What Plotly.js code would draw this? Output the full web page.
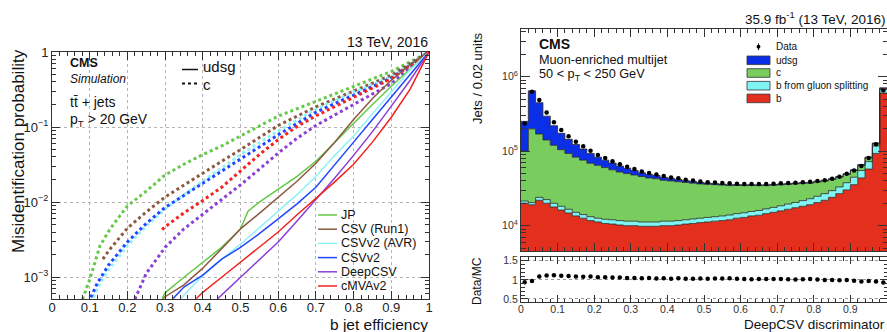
<!DOCTYPE html>
<html><head><meta charset="utf-8">
<script src="https://cdn.plot.ly/plotly-3.0.1.min.js"></script>
<style>html,body{margin:0;padding:0;background:#fff}#chart{width:887px;height:332px}</style>
</head><body><div id="chart"></div>
<script>
// ================= LEFT PANEL DATA (b jet efficiency vs misidentification) =================
const taggers   = ['JP', 'CSV (Run1)', 'CSVv2 (AVR)', 'CSVv2', 'DeepCSV', 'cMVAv2'];
const tagColors = ['#63c948', '#8c5a3f', '#8ef3f6', '#2245ff', '#8a3fd6', '#f2221f'];

// udsg (solid)
const jpUdsgEff   = [0.292,0.30,0.35,0.40,0.45,0.50,0.52,0.55,0.60,0.65,0.70,0.75,0.80,0.85,0.90,0.95,1.0];
const jpUdsgMis   = [5.2e-4,6.2e-4,1.0e-3,1.58e-3,2.5e-3,4.4e-3,7.6e-3,1.0e-2,1.48e-2,2.2e-2,3.5e-2,6.3e-2,0.112,0.20,0.35,0.60,1];
const csvUdsgEff  = [0.295,0.30,0.35,0.40,0.45,0.50,0.55,0.60,0.65,0.70,0.75,0.80,0.85,0.90,0.95,1.0];
const csvUdsgMis  = [5.2e-4,5.5e-4,7.9e-4,1.32e-3,2.4e-3,4.4e-3,7.1e-3,1.17e-2,1.9e-2,3.3e-2,6.3e-2,0.126,0.24,0.42,0.68,1];
const avrUdsgEff  = [0.343,0.35,0.40,0.45,0.50,0.55,0.60,0.65,0.70,0.75,0.80,0.85,0.90,0.95,1.0];
const avrUdsgMis  = [5.2e-4,5.8e-4,1.05e-3,1.74e-3,2.75e-3,4.6e-3,7.6e-3,1.26e-2,2.2e-2,4.2e-2,7.6e-2,0.15,0.30,0.58,1];
const v2UdsgEff   = [0.321,0.35,0.40,0.45,0.50,0.55,0.60,0.65,0.70,0.75,0.80,0.85,0.90,0.95,1.0];
const v2UdsgMis   = [5.2e-4,7.4e-4,1.07e-3,1.74e-3,2.5e-3,3.8e-3,6.0e-3,9.5e-3,1.58e-2,3.2e-2,6.3e-2,0.126,0.25,0.50,1];
const deepUdsgEff = [0.44,0.50,0.55,0.60,0.65,0.70,0.75,0.80,0.85,0.90,0.95,1.0];
const deepUdsgMis = [5.2e-4,1.0e-3,1.7e-3,2.95e-3,5.6e-3,1.07e-2,2.1e-2,4.2e-2,8.7e-2,0.19,0.42,1];
const cmvaUdsgEff = [0.383,0.40,0.45,0.50,0.55,0.60,0.65,0.70,0.75,0.80,0.85,0.90,0.95,1.0];
const cmvaUdsgMis = [5.2e-4,6.3e-4,1.0e-3,1.58e-3,2.5e-3,4.0e-3,6.8e-3,1.12e-2,1.86e-2,3.2e-2,6.3e-2,0.135,0.32,1];

// c (dotted)
const jpCEff   = [0.081,0.10,0.127,0.154,0.20,0.25,0.30,0.35,0.40,0.45,0.50,0.60,0.70,0.80,0.90,1.0];
const jpCMis   = [5.1e-4,9.3e-4,2.6e-3,4.4e-3,8.9e-3,1.4e-2,2.3e-2,3.2e-2,4.3e-2,5.6e-2,7.6e-2,0.14,0.22,0.35,0.55,1];
const csvCEff  = [0.135,0.15,0.20,0.25,0.30,0.35,0.40,0.45,0.50,0.60,0.70,0.80,0.90,1.0];
const csvCMis  = [1.74e-3,2.24e-3,4.5e-3,7.4e-3,1.17e-2,1.7e-2,2.45e-2,3.5e-2,5.0e-2,0.105,0.186,0.30,0.49,1];
const avrCEff  = [0.11,0.12,0.15,0.20,0.25,0.30,0.35,0.40,0.45,0.50,0.60,0.70,0.80,0.90,1.0];
const avrCMis  = [5.4e-4,7.1e-4,1.26e-3,2.63e-3,4.8e-3,8.1e-3,1.26e-2,1.9e-2,2.8e-2,4.3e-2,8.9e-2,0.174,0.29,0.47,1];
const v2CEff   = [0.103,0.12,0.15,0.20,0.25,0.30,0.35,0.40,0.45,0.50,0.60,0.70,0.80,0.90,1.0];
const v2CMis   = [5.4e-4,8.3e-4,1.45e-3,2.95e-3,5.2e-3,8.5e-3,1.23e-2,1.78e-2,2.57e-2,3.8e-2,7.9e-2,0.158,0.27,0.45,1];
const deepCEff = [0.22,0.25,0.30,0.35,0.40,0.45,0.50,0.55,0.60,0.65,0.70,0.80,0.90,1.0];
const deepCMis = [5.1e-4,1.12e-3,2.5e-3,4.4e-3,6.9e-3,1.07e-2,1.7e-2,2.75e-2,4.5e-2,7.1e-2,0.105,0.20,0.38,1];
const cmvaCEff = [0.292,0.30,0.35,0.40,0.45,0.50,0.55,0.60,0.65,0.70,0.80,0.90,1.0];
const cmvaCMis = [4.3e-3,4.7e-3,7.2e-3,1.05e-2,1.58e-2,2.6e-2,4.3e-2,6.8e-2,0.102,0.141,0.25,0.44,1];

const udsgCurves = [[jpUdsgEff,jpUdsgMis],[csvUdsgEff,csvUdsgMis],[avrUdsgEff,avrUdsgMis],[v2UdsgEff,v2UdsgMis],[deepUdsgEff,deepUdsgMis],[cmvaUdsgEff,cmvaUdsgMis]];
const cCurves    = [[jpCEff,jpCMis],[csvCEff,csvCMis],[avrCEff,avrCMis],[v2CEff,v2CMis],[deepCEff,deepCMis],[cmvaCEff,cmvaCMis]];
const effTicks = [0,0.1,0.2,0.3,0.4,0.5,0.6,0.7,0.8,0.9,1];
const effTickText = ['0','0.1','0.2','0.3','0.4','0.5','0.6','0.7','0.8','0.9','1'];
const misTicks = [0.001,0.01,0.1,1];
const misTickText = ['10<sup>\u22123</sup>','10<sup>\u22122</sup>','10<sup>\u22121</sup>','1'];

// ================= RIGHT PANEL DATA (DeepCSV discriminator, 0.02 bins) =================
const binCenters = [0.01,0.03,0.05,0.07,0.09,0.11,0.13,0.15,0.17,0.19,0.21,0.23,0.25,0.27,0.29,0.31,0.33,0.35,0.37,0.39,
                    0.41,0.43,0.45,0.47,0.49,0.51,0.53,0.55,0.57,0.59,0.61,0.63,0.65,0.67,0.69,0.71,0.73,0.75,0.77,0.79,
                    0.81,0.83,0.85,0.87,0.89,0.91,0.93,0.95,0.97,0.99];
const binWidth = 0.02;
const nB    = [20000,19100,21900,20000,17800,16200,14800,13500,12600,11700,11200,10700,10500,10200,10000,10000,9800,9800,9800,10000,
               10000,10200,10500,10700,11000,11200,11500,11700,12000,12600,12900,13500,13800,14500,15100,15800,16600,17400,18200,19100,
               20400,21900,24000,26900,30200,35500,43700,57500,93300,603000];
const nGsp  = [1400,1300,2100,2400,2200,2000,1800,1600,1500,1500,1400,1500,1500,1500,1500,1500,1400,1400,1400,1500,
               1500,1500,1500,1600,1600,1700,1700,1800,1900,1900,2000,2000,2200,2300,2500,2700,2900,3100,3500,3900,
               4400,5000,5500,6200,7500,9200,11300,14900,24200,73000];
const nC    = [78600,179000,146000,119000,100000,86500,76700,68100,61800,55700,52000,48000,44200,40800,38600,36400,34500,32500,31500,29200,
               28300,27200,26000,24900,23700,23000,22300,21600,20600,20200,19600,19200,18500,17700,17300,16900,16400,15900,15300,14200,
               13800,12900,12200,11600,11000,10300,9500,9000,8500,16000];
const nUdsg = [151000,446000,277000,154000,99000,69000,51200,39800,31300,24100,18600,15600,13000,10600,8800,7100,5600,5000,4400,3800,
               3200,2700,2200,1900,1700,1400,1200,1100,1000,900,800,800,800,800,800,800,800,900,800,900,
               900,900,1000,1000,1100,1200,1500,1900,2900,16000];
const nData = [236000,627000,487000,330000,245000,193000,159000,134000,116000,101000,89000,81200,73400,66900,61800,57800,53400,51000,48700,46500,
               44400,43400,41400,40300,39300,38300,38000,37400,37000,36600,36200,36200,36200,36200,36600,37000,37400,37600,38400,38900,
               39800,40700,42700,45200,49600,55100,63300,80700,123600,658000];
const procNames  = ['b', 'b from gluon splitting', 'c', 'udsg'];
const procValues = [nB, nGsp, nC, nUdsg];
const procColors = ['#e3301e', '#80f3f3', '#78cd5e', '#0b2fe6'];

// ================= helpers =================
const W = 887, H = 332;
const PX = v => v / W, PY = v => 1 - v / H;
const FONT = 'Liberation Sans, Arial, Helvetica, sans-serif';

const traces = [];
// left panel curves
cCurves.forEach((cv, i) => traces.push({
  type: 'scatter', mode: 'lines', x: cv[0], y: cv[1], xaxis: 'x', yaxis: 'y',
  line: {color: tagColors[i], width: 3, dash: 'dot'}, showlegend: false, hoverinfo: 'skip'
}));
udsgCurves.forEach((cv, i) => traces.push({
  type: 'scatter', mode: 'lines', x: cv[0], y: cv[1], xaxis: 'x', yaxis: 'y',
  line: {color: tagColors[i], width: 1.5}, showlegend: false, hoverinfo: 'skip'
}));

// right panel: stacked step histograms (edges built from bin centers)
const edges = binCenters.map(c => +(c - binWidth / 2).toFixed(4)).concat([+(binCenters[binCenters.length - 1] + binWidth / 2).toFixed(4)]);
procValues.forEach((vals, i) => traces.push({
  type: 'scatter', mode: 'lines', x: edges, y: vals.concat([vals[vals.length - 1]]),
  xaxis: 'x2', yaxis: 'y2', stackgroup: 'mc', line: {shape: 'hv', color: '#2a2a2a', width: 0.8},
  fillcolor: procColors[i], name: procNames[i], showlegend: false, hoverinfo: 'skip'
}));
traces.push({
  type: 'scatter', mode: 'markers', x: binCenters, y: nData, xaxis: 'x2', yaxis: 'y2',
  marker: {color: '#000', size: 4.5}, showlegend: false, hoverinfo: 'skip'
});
const mcTotal = binCenters.map((_, k) => nB[k] + nGsp[k] + nC[k] + nUdsg[k]);
traces.push({
  type: 'scatter', mode: 'markers', x: binCenters, y: nData.map((d, k) => d / mcTotal[k]), xaxis: 'x3', yaxis: 'y3',
  marker: {color: '#000', size: 4.5}, showlegend: false, hoverinfo: 'skip'
});

// ================= annotations & legend glyphs =================
const ann = [];
const shapes = [];
function txt(text, x, y, size, opts = {}) {
  ann.push(Object.assign({text, x: PX(x), y: PY(y), xref: 'paper', yref: 'paper', showarrow: false, borderpad: 0,
    xanchor: 'left', yanchor: 'middle', font: {family: FONT, size, color: '#111'}}, opts));
}
// left panel text
txt('13 TeV, 2016', 429, 42, 14, {xanchor: 'right'});
txt('Misidentification probability', 18, 151, 17, {xanchor: 'center', textangle: -90});
txt('b jet efficiency', 429, 324, 15.5, {xanchor: 'right'});
txt('<b>CMS</b>', 69, 63, 12.5);
txt('<i>Simulation</i>', 69, 79, 12);
txt('tt\u0304 + jets', 69, 101.5, 14);
txt('p<sub>T</sub> &gt; 20 GeV', 69, 119.5, 14);
// style key (udsg solid / c dotted)
shapes.push({type: 'line', xref: 'paper', yref: 'paper', x0: PX(182), x1: PX(198), y0: PY(69.5), y1: PY(69.5), line: {color: '#111', width: 1.5}});
shapes.push({type: 'line', xref: 'paper', yref: 'paper', x0: PX(182), x1: PX(198), y0: PY(83.5), y1: PY(83.5), line: {color: '#111', width: 2.2, dash: 'dot'}});
txt('udsg', 202, 66.5, 15);
txt('c', 202, 84, 15);
// tagger legend
taggers.forEach((name, i) => {
  const y = 215 + 14.2 * i;
  shapes.push({type: 'line', xref: 'paper', yref: 'paper', x0: PX(318), x1: PX(337), y0: PY(y), y1: PY(y), line: {color: tagColors[i], width: 1.5}});
  txt(name, 340, y, 12.5);
});

// right panel text
txt('35.9 fb<sup>-1</sup> (13 TeV, 2016)', 887, 18, 13.5, {xanchor: 'right'});
txt('Jets / 0.02 units', 477, 78, 13, {xanchor: 'center', textangle: -90});
txt('Data/MC', 477, 281, 12, {xanchor: 'center', textangle: -90});
txt('DeepCSV discriminator', 886, 324, 13.5, {xanchor: 'right'});
txt('<b>CMS</b>', 538, 44, 14);
txt('Muon-enriched multijet', 538, 60, 12.7);
txt('50 &lt; p<sub>T</sub> &lt; 250 GeV', 538, 75, 12.7);
// process legend
shapes.push({type: 'line', xref: 'paper', yref: 'paper', x0: PX(758.5), x1: PX(758.5), y0: PY(43.5), y1: PY(50), line: {color: '#000', width: 1}});
shapes.push({type: 'circle', xref: 'paper', yref: 'paper', x0: PX(756.6), x1: PX(760.4), y0: PY(48.6), y1: PY(44.8), fillcolor: '#000', line: {color: '#000', width: 0}});
txt('Data', 775, 47, 10);
const legOrder = [3, 2, 1, 0];
legOrder.forEach((pi, r) => {
  const y = 60.3 + 12.7 * r;
  shapes.push({type: 'rect', xref: 'paper', yref: 'paper', x0: PX(747), x1: PX(770), y0: PY(y + 4.3), y1: PY(y - 4.3),
    fillcolor: procColors[pi], line: {color: '#333', width: 0.8}});
  txt(procNames[pi], 775, y, 10);
});

// ================= axes =================
const frame = {showline: true, linecolor: '#333', linewidth: 1, mirror: 'ticks', ticks: 'inside', tickcolor: '#333', zeroline: false};
const layout = {
  width: W, height: H, margin: {l: 0, r: 0, t: 0, b: 0}, paper_bgcolor: '#fff', plot_bgcolor: '#fff',
  font: {family: FONT, color: '#222'}, showlegend: false,
  xaxis: Object.assign({}, frame, {domain: [PX(52), PX(429)], range: [0, 1], anchor: 'y', tickvals: effTicks, ticktext: effTickText,
    ticklen: 8, ticklabelstandoff: -4, tickfont: {size: 13, color: '#222'}, showgrid: true, gridcolor: '#b5b5b5', griddash: 'dot', gridwidth: 1,
    minor: {ticks: 'inside', ticklen: 4, dtick: 0.02, tickcolor: '#333', showgrid: false}}),
  yaxis: Object.assign({}, frame, {domain: [PY(299), PY(52)], type: 'log', range: [-3.29, 0], anchor: 'x', tickvals: misTicks, ticktext: misTickText,
    ticklen: 8, tickfont: {size: 13, color: '#222'}, showgrid: true, gridcolor: '#b5b5b5', griddash: 'dot', gridwidth: 1,
    minor: {ticks: 'inside', ticklen: 4, dtick: 'D1', tickcolor: '#333', showgrid: false}}),
  xaxis2: Object.assign({}, frame, {domain: [PX(521), 1], range: [0, 1], anchor: 'y2', dtick: 0.1, showticklabels: false, ticklen: 8, showgrid: false,
    minor: {ticks: 'inside', ticklen: 4, dtick: 0.02, tickcolor: '#333'}}),
  yaxis2: Object.assign({}, frame, {domain: [PY(251), PY(29)], type: 'log', range: [3.66, 6.64], anchor: 'x2',
    tickvals: [1e4, 1e5, 1e6], ticktext: ['10<sup>4</sup>', '10<sup>5</sup>', '10<sup>6</sup>'], ticklen: 9, tickfont: {size: 10.5, color: '#333'}, showgrid: false,
    minor: {ticks: 'inside', ticklen: 4.5, dtick: 'D1', tickcolor: '#333'}}),
  xaxis3: Object.assign({}, frame, {domain: [PX(521), 1], range: [0, 1], anchor: 'y3', tickvals: effTicks, ticktext: effTickText,
    ticklen: 7, ticklabelstandoff: -3, tickfont: {size: 10.5, color: '#333'}, showgrid: false,
    minor: {ticks: 'inside', ticklen: 3.5, dtick: 0.02, tickcolor: '#333'}}),
  yaxis3: Object.assign({}, frame, {domain: [PY(302), PY(257)], range: [0.42, 1.6], anchor: 'x3', tickvals: [0.5, 1, 1.5], ticktext: ['0.5', '1', '1.5'],
    ticklen: 7, tickfont: {size: 10.5, color: '#333'}, showgrid: true, gridcolor: '#999', griddash: 'dot', gridwidth: 1,
    minor: {ticks: 'inside', ticklen: 3.5, dtick: 0.1, tickcolor: '#333', showgrid: false}}),
  annotations: ann, shapes: shapes
};
Plotly.newPlot('chart', traces, layout, {staticPlot: true, displayModeBar: false});
</script></body></html>
